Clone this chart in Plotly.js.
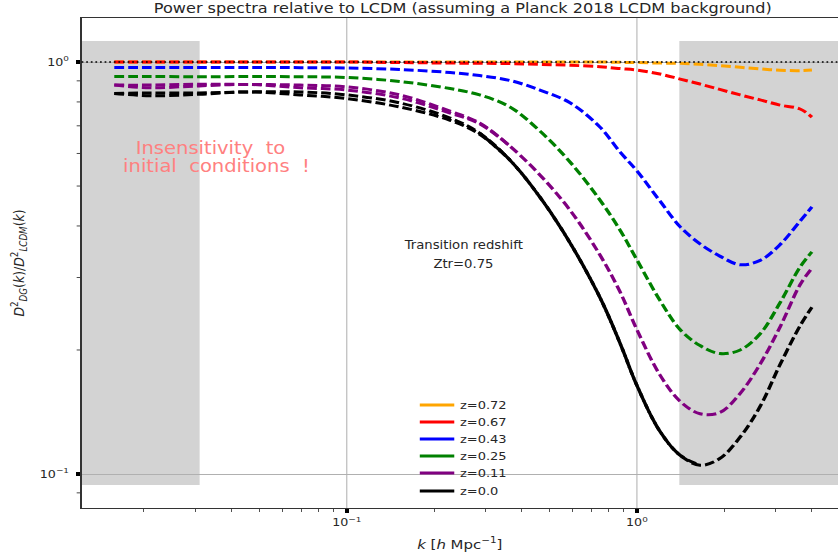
<!DOCTYPE html>
<html>
<head>
<meta charset="utf-8">
<script src="https://cdn.plot.ly/plotly-3.0.1.min.js"></script>
<style>
  html, body { margin: 0; padding: 0; background: #fff; overflow: hidden; }
  /* the figure is laid out narrow and widened horizontally */
  #chart { width: 729px; height: 557px; transform: scaleX(1.1495); transform-origin: 0 0; }
</style>
</head>
<body>
<div id="chart"></div>
<script>
// wavenumbers k [h/Mpc]
const k = [0.0158, 0.021, 0.031, 0.046, 0.069, 0.1, 0.152, 0.227, 0.287, 0.365, 0.463, 0.588,
           0.746, 0.874, 1.0, 1.2, 1.41, 1.65, 1.93, 2.27, 2.66, 3.11, 3.65, 4.01];

// D^2_DG / D^2_LCDM for each redshift
const z072 = [1, 1, 1, 1, 1, 1, 1, 1, 1, 1, 1, 1, 1,
              0.998, 0.997, 0.994, 0.993, 0.987, 0.980, 0.971, 0.962, 0.955, 0.953, 0.956];
const z067 = [1, 1, 1, 1, 1, 1, 0.997, 0.994, 0.993, 0.991, 0.987, 0.982,
              0.974, 0.964, 0.956, 0.935, 0.909, 0.884, 0.858, 0.832, 0.809, 0.786, 0.769, 0.735];
const z043 = [0.970, 0.970, 0.970, 0.970, 0.969, 0.967, 0.959, 0.943, 0.927, 0.902, 0.855, 0.796,
              0.695, 0.605, 0.544, 0.460, 0.398, 0.362, 0.338, 0.322, 0.330, 0.360, 0.411, 0.445];
const z025 = [0.922, 0.922, 0.921, 0.922, 0.921, 0.917, 0.897, 0.862, 0.832, 0.778, 0.680, 0.572,
              0.462, 0.391, 0.331, 0.264, 0.224, 0.205, 0.196, 0.200, 0.219, 0.260, 0.318, 0.346];
const z011 = [0.879, 0.879, 0.883, 0.882, 0.879, 0.870, 0.832, 0.760, 0.711, 0.625, 0.532, 0.437,
              0.340, 0.277, 0.224, 0.174, 0.150, 0.140, 0.141, 0.157, 0.185, 0.227, 0.288, 0.316];
const z000 = [0.839, 0.841, 0.841, 0.846, 0.846, 0.832, 0.796, 0.731, 0.672, 0.578, 0.470, 0.364,
              0.268, 0.208, 0.164, 0.127, 0.111, 0.105, 0.109, 0.123, 0.146, 0.184, 0.229, 0.254];

// second set of initial conditions (merges with the first one at larger k)
const kAlt011 = [0.0158, 0.021, 0.031, 0.046, 0.069, 0.1, 0.152, 0.227, 0.287, 0.365];
const z011Alt = [0.879, 0.866, 0.875, 0.882, 0.866, 0.855, 0.818, 0.752, 0.708, 0.625];
const kAlt000 = [0.0158, 0.021, 0.031, 0.046, 0.069, 0.1, 0.152, 0.227, 0.287, 0.365];
const z000Alt = [0.839, 0.828, 0.835, 0.846, 0.832, 0.815, 0.778, 0.722, 0.668, 0.578];
// index range where the two z=0 solutions coincide
const overlap000 = [8, 18];

const labels = ['z=0.72', 'z=0.67', 'z=0.43', 'z=0.25', 'z=0.11', 'z=0.0'];
const colors = ['#ffa500', '#ff0000', '#0000ff', '#008000', '#800080', '#000000'];
const series = [z072, z067, z043, z025, z011, z000];

// shaded k-ranges and their vertical extent
const bandLeft = [0.001, 0.0311];
const bandRight = [1.4, 100];
const bandY = [0.094, 1.124];

const xMinor = [0.02, 0.03, 0.04, 0.05, 0.06, 0.07, 0.08, 0.09,
                0.2, 0.3, 0.4, 0.5, 0.6, 0.7, 0.8, 0.9, 2, 3, 4, 5];
const yMinor = [0.09, 0.2, 0.3, 0.4, 0.5, 0.6, 0.7, 0.8, 0.9];

const FONT = 'DejaVu Sans, Verdana, sans-serif';
const DASH = '8.5px,3.5px';
const DASH_SHIFTED = '2.5px,3.5px,6px,0px';

function dashed(x, y, color, dash) {
  return {
    x: x, y: y, type: 'scatter', mode: 'lines', showlegend: false, hoverinfo: 'skip',
    line: { color: color, width: 3, dash: dash, shape: 'spline', smoothing: 1 }
  };
}

const traces = [];
series.forEach((vals, i) => {
  traces.push(dashed(k, vals, colors[i], DASH));
  if (i === 4) traces.push(dashed(kAlt011, z011Alt, colors[i], DASH));
  if (i === 5) {
    traces.push(dashed(kAlt000, z000Alt, colors[i], DASH));
    traces.push(dashed(k.slice(overlap000[0], overlap000[1]),
                       z000.slice(overlap000[0], overlap000[1]), colors[i], DASH_SHIFTED));
  }
});

// solid legend handles, one small legend per entry
const legendRows = [0.2102, 0.1755, 0.1408, 0.1061, 0.0714, 0.0347];
const legendLayouts = {};
labels.forEach((name, i) => {
  const id = i === 0 ? 'legend' : 'legend' + (i + 1);
  traces.push({
    x: [null], y: [null], type: 'scatter', mode: 'lines', name: name,
    legend: id, showlegend: true, hoverinfo: 'skip',
    line: { color: colors[i], width: 3 }
  });
  legendLayouts[id] = {
    x: 0.4395, xanchor: 'left', y: legendRows[i], yanchor: 'middle',
    bgcolor: 'rgba(0,0,0,0)', borderwidth: 0, itemwidth: 30,
    font: { family: FONT, size: 11.3, color: '#262626' }
  };
});

const layout = Object.assign({
  width: 729, height: 557,
  margin: { l: 71, r: 0, t: 18, b: 49 },
  paper_bgcolor: '#ffffff', plot_bgcolor: '#ffffff',
  font: { family: FONT, color: '#262626' },
  title: {
    text: 'Power spectra relative to LCDM (assuming a Planck 2018 LCDM background)',
    font: { family: FONT, size: 14, color: '#262626' },
    x: 0.504, xref: 'paper', xanchor: 'center',
    y: 0.9856, yref: 'container', yanchor: 'middle'
  },
  xaxis: {
    type: 'log', range: [-1.914, 0.693],
    tickvals: [0.1, 1], ticktext: ['10<sup>−1</sup>', '10<sup>0</sup>'],
    ticks: 'outside', ticklen: 4, tickwidth: 3.5, tickcolor: '#000',
    tickfont: { family: FONT, size: 11, color: '#262626' },
    showgrid: true, gridcolor: '#b0b0b0', gridwidth: 0.9,
    showline: true, linecolor: '#333', linewidth: 1.3, mirror: true, zeroline: false,
    minor: { tickvals: xMinor, ticks: 'outside', ticklen: 3, tickwidth: 0.8, tickcolor: '#333', showgrid: false },
    title: { text: '<i>k</i> [<i>h</i> Mpc<sup>−1</sup>]', font: { family: FONT, size: 13, color: '#262626' }, standoff: 11 }
  },
  yaxis: {
    type: 'log', range: [-1.0825, 0.1068],
    tickvals: [0.1, 1], ticktext: ['10<sup>−1</sup>', '10<sup>0</sup>'],
    ticks: 'outside', ticklen: 3.5, tickwidth: 3.5, tickcolor: '#000', ticklabelstandoff: 4,
    tickfont: { family: FONT, size: 11, color: '#262626' },
    showgrid: true, gridcolor: '#b0b0b0', gridwidth: 1,
    showline: true, linecolor: '#333', linewidth: 1.3, mirror: false, zeroline: false,
    minor: { tickvals: yMinor, ticks: 'outside', ticklen: 3, tickwidth: 0.9, tickcolor: '#333', showgrid: false },
    title: {
      text: '<i>D</i><sup>2</sup><sub><i>DG</i></sub>(<i>k</i>)/<i>D</i><sup>2</sup><sub><i>LCDM</i></sub>(<i>k</i>)',
      font: { family: FONT, size: 12.5, color: '#262626' }, standoff: 10
    }
  },
  shapes: [
    { type: 'rect', xref: 'x', yref: 'y', x0: bandLeft[0], x1: bandLeft[1], y0: bandY[0], y1: bandY[1],
      fillcolor: '#d3d3d3', line: { width: 0 }, layer: 'below' },
    { type: 'rect', xref: 'x', yref: 'y', x0: bandRight[0], x1: bandRight[1], y0: bandY[0], y1: bandY[1],
      fillcolor: '#d3d3d3', line: { width: 0 }, layer: 'below' },
    { type: 'rect', xref: 'paper', yref: 'paper', x0: 0.0146, x1: 0.33, y0: 0.6408, y1: 0.749,
      fillcolor: '#ffffff', line: { width: 0 }, layer: 'below' },
    { type: 'line', xref: 'paper', yref: 'y', x0: 0, x1: 1, y0: 1, y1: 1,
      line: { color: '#000', width: 1.5, dash: '1.5px,2.5px' }, layer: 'above' }
  ],
  annotations: [
    { text: 'Insensitivity\u00a0 to', xref: 'paper', yref: 'paper', x: 0.170, y: 0.7347,
      xanchor: 'center', yanchor: 'middle', showarrow: false,
      font: { family: FONT, size: 17, color: '#ff8080' } },
    { text: 'initial\u00a0 conditions\u00a0 !', xref: 'paper', yref: 'paper', x: 0.1792, y: 0.698,
      xanchor: 'center', yanchor: 'middle', showarrow: false,
      font: { family: FONT, size: 17, color: '#ff8080' } },
    { text: 'Transition redshift', xref: 'paper', yref: 'paper', x: 0.504, y: 0.5367,
      xanchor: 'center', yanchor: 'middle', showarrow: false,
      font: { family: FONT, size: 11.5, color: '#262626' } },
    { text: 'Ztr=0.75', xref: 'paper', yref: 'paper', x: 0.504, y: 0.498,
      xanchor: 'center', yanchor: 'middle', showarrow: false,
      font: { family: FONT, size: 11.5, color: '#262626' } }
  ]
}, legendLayouts);

Plotly.newPlot('chart', traces, layout, { staticPlot: true, displayModeBar: false });
</script>
</body>
</html>
